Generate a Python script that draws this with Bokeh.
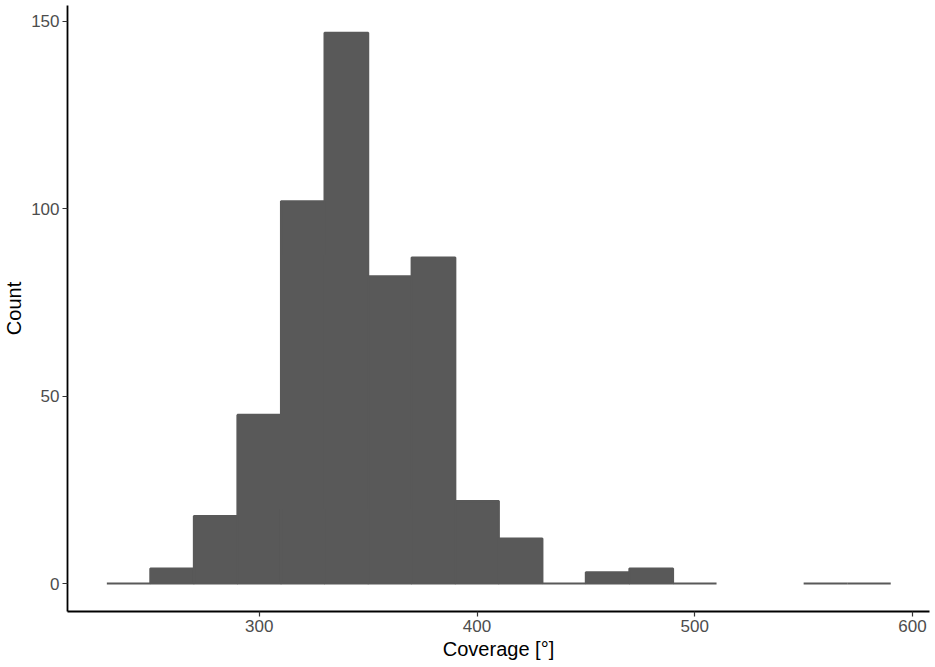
from bokeh.plotting import figure
from bokeh.models import Range1d, FixedTicker, ColumnDataSource
from bokeh.embed import file_html
from bokeh.resources import INLINE

# Histogram data (bin width 20)
bin_start = [230, 250, 270, 290, 310, 330, 350, 370, 390, 410, 430, 450, 470, 490, 550, 570]
counts = [0, 4, 18, 45, 102, 147, 82, 87, 22, 12, 0, 3, 4, 0, 0, 0]
bin_width = 20
x_ticks = [300, 400, 500, 600]
y_ticks = [0, 50, 100, 150]
x_title = "Coverage [°]"
y_title = "Count"

src = ColumnDataSource(dict(
    left=bin_start,
    right=[b + bin_width for b in bin_start],
    top=counts,
    bottom=[0] * len(counts),
))

W, H = 931, 663
p = figure(width=W, height=H, output_backend="svg", toolbar_location=None,
           x_range=Range1d(211.93, 607.8), y_range=Range1d(-7.47, 154.27),
           min_border_left=66, min_border_right=2, min_border_top=5, min_border_bottom=52)

p.quad(left="left", right="right", top="top", bottom="bottom", source=src,
       fill_color="#595959", line_color="#595959", line_width=2.2)

p.xgrid.visible = False
p.ygrid.visible = False
p.outline_line_color = None
p.background_fill_color = "white"
p.border_fill_color = "white"

for ax, ticks, title in ((p.xaxis[0], x_ticks, x_title), (p.yaxis[0], y_ticks, y_title)):
    ax.ticker = FixedTicker(ticks=ticks)
    ax.minor_tick_line_color = None
    ax.major_tick_in = 0
    ax.major_tick_out = 5
    ax.major_tick_line_color = "#333333"
    ax.major_tick_line_width = 1.2
    ax.axis_line_color = "black"
    ax.axis_line_width = 1.8
    ax.major_label_text_font = "Liberation Sans"
    ax.major_label_text_font_size = "17px"
    ax.major_label_text_color = "#4D4D4D"
    ax.major_label_standoff = 3
    ax.axis_label = title
    ax.axis_label_text_font = "Liberation Sans"
    ax.axis_label_text_font_size = "20px"
    ax.axis_label_text_font_style = "normal"
    ax.axis_label_text_color = "black"
    ax.axis_label_standoff = 3

open("out.html", "w").write(file_html(p, INLINE))
